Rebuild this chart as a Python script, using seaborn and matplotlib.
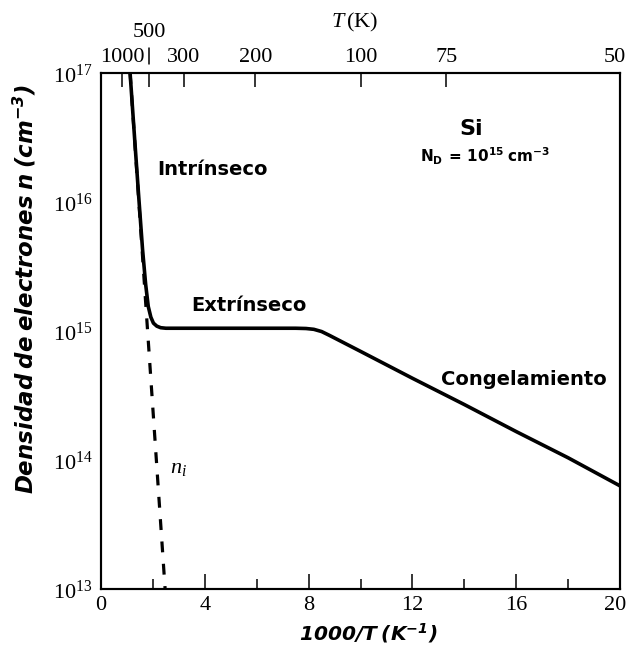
import matplotlib
matplotlib.use("Agg")
import matplotlib.pyplot as plt
from matplotlib.ticker import FixedLocator, MultipleLocator, LogLocator, NullFormatter, FuncFormatter
from matplotlib.transforms import ScaledTranslation
import numpy as np
import pandas as pd
import seaborn as sns

# Electron density in n-type Si (N_D = 1e15 cm^-3) versus inverse temperature
inv_t_total = [1.12, 1.30, 1.45, 1.60, 1.72, 1.82, 1.92, 2.02, 2.15, 2.30, 2.50,
               3.0, 5.0, 7.0, 7.5, 7.9, 8.2, 8.5, 8.8, 10.0, 12.0, 14.0, 16.0, 18.0, 20.0]
n_total = [1.0e17, 3.0e16, 1.12e16, 4.3e15, 2.3e15, 1.55e15, 1.28e15, 1.15e15,
           1.09e15, 1.06e15, 1.05e15, 1.05e15, 1.05e15, 1.05e15, 1.05e15, 1.045e15,
           1.03e15, 9.9e14, 9.25e14, 6.95e14, 4.3e14, 2.69e14, 1.66e14, 1.04e14, 6.3e13]

# Intrinsic carrier concentration n_i
inv_t_intr = [1.12, 2.47]
n_intr = [1.0e17, 1.0e13]

# Top temperature axis
top_tick_pos = [0.82, 1.86, 3.2, 5.95, 10.0, 13.3, 20.0]
top_tick_labels = ["1000", "500", "300", "200", "100", "75", "50"]

bottom_ticks = [0, 4, 8, 12, 16, 20]
y_decades = [13, 14, 15, 16, 17]

df_total = pd.DataFrame({"x": inv_t_total, "n": n_total})
df_intr = pd.DataFrame({"x": inv_t_intr, "n": n_intr})

sns.set_theme(style="white")
plt.rcParams.update({
    "font.family": ["DejaVu Sans"],
    "mathtext.fontset": "custom",
    "mathtext.rm": "Liberation Serif",
    "mathtext.it": "Liberation Serif:italic",
    "mathtext.bf": "DejaVu Sans:italic:bold",
    "mathtext.sf": "DejaVu Sans:bold",
    "axes.edgecolor": "black",
    "axes.linewidth": 1.5,
    "text.color": "black",
    "axes.labelcolor": "black",
    "xtick.color": "black",
    "ytick.color": "black",
})

fig = plt.figure(figsize=(6.29, 6.58), dpi=100)
ax = fig.add_axes([0.1606, 0.1049, 0.8251, 0.7842])

sns.lineplot(data=df_intr, x="x", y="n", ax=ax, color="black", lw=2.3,
             linestyle=(0, (3.4, 3.6)), sort=False)
sns.lineplot(data=df_total, x="x", y="n", ax=ax, color="black", lw=2.6, sort=False)

ax.set_yscale("log")
ax.set_xlim(0, 20)
ax.set_ylim(1e13, 1e17)

ax.xaxis.set_major_locator(FixedLocator(bottom_ticks))
ax.xaxis.set_minor_locator(MultipleLocator(2))
ax.yaxis.set_major_locator(FixedLocator([10.0 ** d for d in y_decades]))
ax.yaxis.set_major_formatter(FuncFormatter(lambda v, p: r"$10^{%d}$" % round(np.log10(v))))
ax.yaxis.set_minor_locator(LogLocator(base=10, subs=np.arange(2, 10)))
ax.yaxis.set_minor_formatter(NullFormatter())

ax.tick_params(axis="x", which="major", direction="in", length=11, width=1.1,
               pad=5, labelsize=16, top=False)
ax.tick_params(axis="x", which="minor", direction="in", length=7, width=1.1, top=False)
ax.tick_params(axis="y", which="major", direction="in", length=12, width=1.1,
               pad=6, labelsize=16, right=False)
ax.tick_params(axis="y", which="minor", direction="in", length=9, width=1.0, right=False)
for lab in ax.get_xticklabels():
    lab.set_fontfamily("Liberation Serif")

ax.set_xlabel(r"$\mathbf{1000/T\ (K^{-1})}$", fontsize=14.5)
ax.xaxis.set_label_coords(0.514, -0.063)
ax.set_ylabel(r"$\mathbf{Densidad\ de\ electrones\ n\ (cm^{-3})}$", fontsize=16.5)
ax.yaxis.set_label_coords(-0.12, 0.581)

# Temperature axis on top
ax2 = ax.twiny()
ax2.set_xlim(ax.get_xlim())
ax2.set_xticks(top_tick_pos)
ax2.set_xticklabels(top_tick_labels, fontfamily="Liberation Serif", fontsize=16)
ax2.tick_params(axis="x", which="major", direction="in", length=10, width=1.1, pad=4)
ax2.tick_params(axis="x", which="minor", length=0)
raised = top_tick_labels.index("500")
ax2.xaxis.get_major_ticks()[raised].set_pad(22)
ax2.plot([top_tick_pos[raised]] * 2, [1.017, 1.048], color="black", lw=1.1,
         transform=ax2.get_xaxis_transform(), clip_on=False)
ax2.set_xlabel(r"$T\,\mathrm{(K)}$", fontsize=16)
ax2.xaxis.set_label_coords(0.489, 1.088)

# Nudge the rightmost labels so they stay inside the canvas
nudge = ScaledTranslation(-5 / 100, 0, fig.dpi_scale_trans)
for tick in (ax.xaxis.get_major_ticks()[-1], ax2.xaxis.get_major_ticks()[-1]):
    for lab in (tick.label1, tick.label2):
        lab.set_transform(lab.get_transform() + nudge)

# Region annotations
bold = dict(fontweight="bold", ha="center", va="center", color="black")
ax.text(4.28, 1.78e16, "Intrínseco", fontsize=14, **bold)
ax.text(5.70, 1.58e15, "Extrínseco", fontsize=14, **bold)
ax.text(16.3, 4.2e14, "Congelamiento", fontsize=14, **bold)
ax.text(14.26, 3.7e16, "Si", fontsize=16, **bold)
ax.text(14.8, 2.24e16, r"$\mathsf{N_D\ =\ 10^{15}\ cm^{-3}}$", fontsize=11,
        ha="center", va="center")
ax.text(2.97, 8.7e13, r"$n_i$", fontsize=16, ha="center", va="center")

fig.savefig("out.png", dpi=100, facecolor="white")
